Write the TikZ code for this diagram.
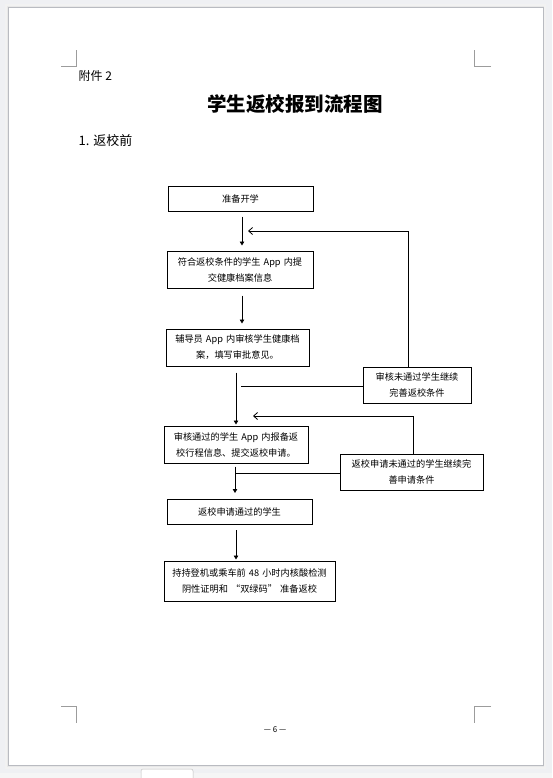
\documentclass[tikz,border=0pt]{standalone}
\usepackage{fontspec}
\setmainfont{Noto Sans CJK SC}
\usetikzlibrary{arrows.meta}
\definecolor{pagebg}{HTML}{EFF0F3}
\definecolor{pageedge}{HTML}{B9BBC1}
\definecolor{cropgray}{HTML}{9C9C9C}

\begin{document}
\begin{tikzpicture}[x=1pt, y=-1pt, line width=0.8pt,
    box/.style={draw, line width=1pt, inner sep=0pt, align=center,
      font=\fontsize{9.2}{16}\selectfont},
    fwd/.style={-{Triangle[length=4pt,width=4.5pt]}},
    back/.style={-{Straight Barb[length=4pt,width=7pt]}},
    crop/.style={cropgray, line width=0.6pt}]
      \useasboundingbox (0,0) rectangle (552,778);
      % page
      \fill[pagebg] (0,0) rectangle (552,778);
      \fill[black!5] (5,4) rectangle (546,769);
      \fill[black!9] (7,6) rectangle (544,767);
      \draw[pageedge, fill=white, line width=0.6pt] (8,7) rectangle (543,765);
      \fill[black!4] (0,773) rectangle (552,778);
      \draw[black!25, fill=white, rounded corners=2pt, line width=0.5pt]
        (141,779) -- (141,769) -- (193,769) -- (193,779);
      % crop marks
      \draw[crop] (61,66) -- (76,66) -- (76,50);
      \draw[crop] (491,66) -- (474,66) -- (474,50);
      \draw[crop] (61,706) -- (76,706) -- (76,723);
      \draw[crop] (491,706) -- (474,706) -- (474,723);
      % headings
      \node[anchor=west, font=\fontsize{12}{14}\selectfont] (att) at (75,76) {附件 2};
      \node[font=\bfseries\fontsize{19.5}{22}\selectfont] (title) at (295,104) {学生返校报到流程图};
      \node[anchor=west, font=\fontsize{13}{15}\selectfont] (sec) at (75,141) {1. 返校前};
      \node[font=\fontsize{8}{10}\selectfont] (pg) at (275,730) {— 6 —};
      % boxes
      \node[box, text width=145pt, minimum height=25pt] (b1) at (240.5,198.5) {准备开学};
      \node[box, text width=146pt, minimum height=37pt] (b2) at (240,269.5)
        {符合返校条件的学生 App 内提\\交健康档案信息};
      \node[box, text width=143pt, minimum height=37pt] (b3) at (237.5,347.5)
        {辅导员 App 内审核学生健康档\\案，填写审批意见。};
      \node[box, text width=144pt, minimum height=37pt] (b4) at (236,444.5)
        {审核通过的学生 App 内报备返\\校行程信息、提交返校申请。};
      \node[box, text width=108pt, minimum height=36pt] (b5) at (417,385)
        {审核未通过学生继续\\完善返校条件};
      \node[box, text width=143pt, minimum height=36pt] (b6) at (411.5,472)
        {返校申请未通过的学生继续完\\善申请条件};
      \node[box, text width=145pt, minimum height=25pt] (b7) at (239.5,512) {返校申请通过的学生};
      \node[box, text width=171pt, minimum height=40pt] (b8) at (249.5,581)
        {持持登机或乘车前 48 小时内核酸检测\\阴性证明和 “双绿码” 准备返校};
      % main flow
      \draw[fwd, shorten <=5pt, shorten >=5pt] ([xshift=1.5pt]b1.south) -- ([xshift=1.5pt]b1.south |- b2.north);
      \draw[fwd, shorten <=7pt, shorten >=5pt] ([xshift=2pt]b2.south) -- ([xshift=2pt]b2.south |- b3.north);
      \draw[fwd, shorten <=6pt, shorten >=1pt] ([xshift=-1.5pt]b3.south) -- ([xshift=-1.5pt]b3.south |- b4.north);
      \draw[fwd, shorten <=3pt, shorten >=6pt] ([xshift=-1pt]b4.south) -- ([xshift=-1pt]b4.south |- b7.north);
      \draw[fwd, shorten <=5pt, shorten >=1pt] ([xshift=-3.5pt]b7.south) -- ([xshift=-3.5pt]b7.south |- b8.north);
      % returns
      \coordinate (t1) at (248,231);
      \coordinate (j1) at (241,386);
      \draw[back] ([xshift=-9pt]b5.north) |- (t1);
      \draw ([yshift=-1pt]b5.west) -- (j1);
      \coordinate (t2) at (253,416);
      \coordinate (j2) at (235,473);
      \draw[back] ([xshift=1.5pt]b6.north) |- (t2);
      \draw ([yshift=-1pt]b6.west) -- (j2);
    \end{tikzpicture}
\end{document}
